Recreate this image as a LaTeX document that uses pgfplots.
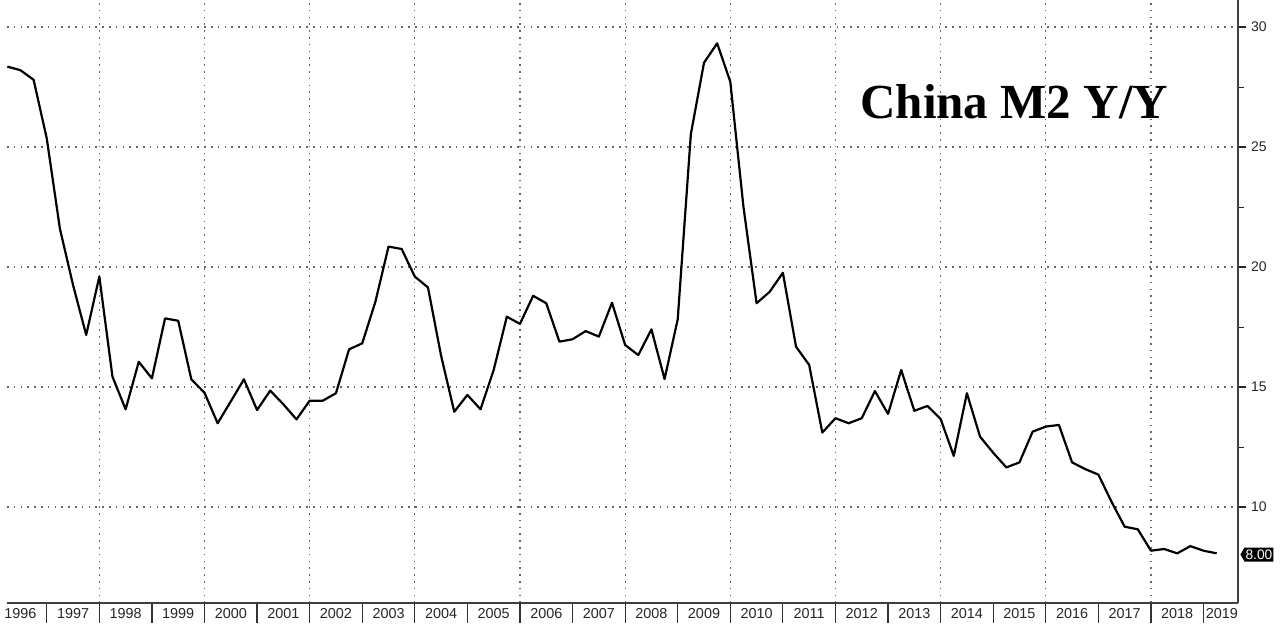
\documentclass[border=0pt]{standalone}
\usepackage{fontspec}
\setmainfont{Liberation Sans}
\newfontfamily\titlefont{Liberation Serif}
\usepackage{pgfplots}
\pgfplotsset{compat=1.18}
\usetikzlibrary{shapes.symbols}

\begin{document}
\begin{tikzpicture}
\begin{axis}[
  name=ax,
  at={(0,0)}, anchor=south west,
  scale only axis,
  width=615.5pt, height=301.5pt,
  xmin=1996.244, xmax=2019.656,
  ymin=6, ymax=31.125,
  clip mode=individual,
  axis x line*=bottom,
  axis y line*=right,
  axis line style={-, line width=1pt, color=black!75},
  tick align=outside,
  major tick length=4pt,
  minor tick length=3pt,
  % year labels centred in each year
  xtick={1996.5,1997.5,1998.5,1999.5,2000.5,2001.5,2002.5,2003.5,2004.5,2005.5,2006.5,2007.5,2008.5,2009.5,2010.5,2011.5,2012.5,2013.5,2014.5,2015.5,2016.5,2017.5,2018.5,2019.35},
  xticklabels={1996,1997,1998,1999,2000,2001,2002,2003,2004,2005,2006,2007,2008,2009,2010,2011,2012,2013,2014,2015,2016,2017,2018,2019},
  xtick style={draw=none},
  xticklabel style={font=\fontsize{7.2}{8}\selectfont, text=black!85, yshift=5pt},
  % dotted grid every two years
  minor xtick={1998,2000,2002,2004,2006,2008,2010,2012,2014,2016,2018},
  xminorgrids=true,
  minor x tick style={draw=none},
  minor grid style={dash pattern=on 0.8pt off 2.6pt, color=black!60, line width=0.6pt},
  ytick={10,15,20,25,30},
  minor y tick num=1,
  ymajorgrids=true,
  major grid style={dash pattern=on 0.8pt off 2.6pt, color=black!60, line width=0.6pt},
  y tick style={line width=1pt, color=black!85},
  minor y tick style={line width=0.5pt},
  yticklabel style={font=\fontsize{7}{8}\selectfont, text=black!85, xshift=-1pt},
  /pgf/number format/assume math mode=true,
]
\addplot[black, line width=1.1pt, line join=round, mark=none] coordinates {
(1996.25,28.35) (1996.50,28.2) (1996.75,27.8) (1997.00,25.36)
(1997.25,21.6) (1997.50,19.25) (1997.75,17.17) (1998.00,19.6)
(1998.25,15.43) (1998.50,14.07) (1998.75,16.05) (1999.00,15.36)
(1999.25,17.86) (1999.50,17.76) (1999.75,15.32) (2000.00,14.76)
(2000.25,13.49) (2000.50,14.4) (2000.75,15.32) (2001.00,14.04)
(2001.25,14.85) (2001.50,14.28) (2001.75,13.65) (2002.00,14.43)
(2002.25,14.43) (2002.50,14.74) (2002.75,16.57) (2003.00,16.82)
(2003.25,18.55) (2003.50,20.85) (2003.75,20.75) (2004.00,19.6)
(2004.25,19.15) (2004.50,16.3) (2004.75,13.97) (2005.00,14.67)
(2005.25,14.07) (2005.50,15.71) (2005.75,17.93) (2006.00,17.63)
(2006.25,18.8) (2006.50,18.49) (2006.75,16.89) (2007.00,16.99)
(2007.25,17.33) (2007.50,17.1) (2007.75,18.51) (2008.00,16.75)
(2008.25,16.33) (2008.50,17.4) (2008.75,15.33) (2009.00,17.82)
(2009.25,25.54) (2009.50,28.51) (2009.75,29.32) (2010.00,27.72)
(2010.25,22.51) (2010.50,18.49) (2010.75,18.97) (2011.00,19.76)
(2011.25,16.68) (2011.50,15.92) (2011.75,13.1) (2012.00,13.7)
(2012.25,13.49) (2012.50,13.7) (2012.75,14.83) (2013.00,13.88)
(2013.25,15.71) (2013.50,14.01) (2013.75,14.21) (2014.00,13.67)
(2014.25,12.13) (2014.50,14.74) (2014.75,12.93) (2015.00,12.26)
(2015.25,11.65) (2015.50,11.86) (2015.75,13.14) (2016.00,13.35)
(2016.25,13.42) (2016.50,11.86) (2016.75,11.58) (2017.00,11.35)
(2017.25,10.22) (2017.50,9.18) (2017.75,9.07) (2018.00,8.18)
(2018.25,8.25) (2018.50,8.07) (2018.75,8.37) (2019.00,8.18)
(2019.25,8.07)
};
% year separators below the axis
\pgfplotsinvokeforeach{1997,1998,...,2019}{
  \draw[line width=0.6pt, black!80] (axis cs:#1,6) -- ++(0pt,-10pt);
}
\node[anchor=base west, inner sep=0pt, font=\titlefont\bfseries\fontsize{24.5}{28}\selectfont]
  at (rel axis cs:0.693,0.804) {China M2 Y/Y};
\node[signal, signal to=west, signal pointer angle=120, fill=black, text=white,
  inner xsep=0.5pt, inner ysep=0.6pt, minimum height=7pt, anchor=west,
  font=\fontsize{6.9}{7.5}\selectfont, xshift=1pt]
  at (axis cs:2019.656,8.02) {8.00};
\end{axis}
\pgfresetboundingbox
\useasboundingbox ([xshift=-3.5pt,yshift=-10pt]ax.south west) rectangle ([xshift=21pt]ax.north east);
\end{tikzpicture}
\end{document}
